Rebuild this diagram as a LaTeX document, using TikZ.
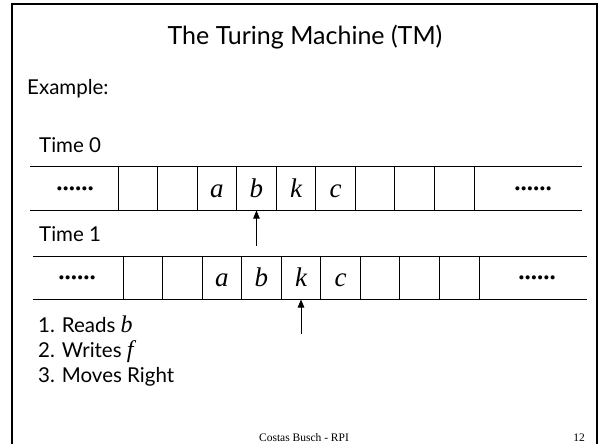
\documentclass[tikz,border=0pt]{standalone}
\usepackage{fontspec}
\setmainfont{Lato}
\newfontfamily\cintafont{Liberation Serif}
\usetikzlibrary{arrows.meta}

\begin{document}
\begin{tikzpicture}[x=1pt, y=-1pt,
			 celda/.style={draw, line width=1pt, minimum width=39.56pt, minimum height=44pt, inner sep=0pt, text height=18pt, text depth=0pt, font=\cintafont\itshape\fontsize{27}{27}\selectfont},
			 puntos/.style={anchor=base, inner sep=0pt, font=\cintafont\bfseries\fontsize{25}{25}\selectfont},
			 texto/.style={anchor=base west, inner sep=0pt, font=\fontsize{20.5}{21}\selectfont},
			 cabezal/.style={-{Triangle[length=8pt, width=6.5pt]}, line width=0.9pt}
  		]
	\useasboundingbox (0,0) rectangle (600,444);

	%Marco de la diapositiva
		\draw[line width=2.4pt] (12,444) -- (12,4) -- (597,4) -- (597,444);

	%Titulo y textos
		\node[anchor=base, inner sep=0pt, font=\fontsize{25}{26}\selectfont] (titulo) at (305,45) {The Turing Machine (TM)};
		\node[texto] (ejemplo) at (27,95) {Example:};
		\node[texto] (tiempo0) at (39,152) {Time 0};
		\node[texto] (tiempo1) at (39,241) {Time 1};

	%Cinta en el tiempo 0
		\draw[line width=1pt] (30,166) -- (582,166) (30,210) -- (582,210);
		\foreach \s [count=\i] in {{},{},a,b,k,c,{},{},{}}
			\node[celda] (c0\i) at ({118+39.56*(\i-0.5)},188) {\s};
		\node[puntos] (c0izq) at (75,190) {......};
		\node[puntos] (c0der) at (533,190) {......};

	%Cinta en el tiempo 1
		\draw[line width=1pt] (33,256) -- (587,256) (33,299) -- (587,299);
		\foreach \s [count=\i] in {{},{},a,b,k,c,{},{},{}}
			\node[celda, minimum height=43pt] (c1\i) at ({123+39.56*(\i-0.5)},277.5) {\s};
		\node[puntos] (c1izq) at (77,279) {......};
		\node[puntos] (c1der) at (537,279) {......};

	%Cabezales
		\coordinate (pie0) at ([yshift=-35pt]c04.south);
		\coordinate (pie1) at ([yshift=-34pt]c15.south);
		\draw[cabezal] (pie0) -- (c04.south);
		\draw[cabezal] (pie1) -- (c15.south);

	%Pasos
		\node[texto] (paso1) at (38,332) {1. Reads {\cintafont\itshape\fontsize{24}{24}\selectfont b}};
		\node[texto] (paso2) at (38,357) {2. Writes {\cintafont\itshape\fontsize{24}{24}\selectfont f}};
		\node[texto] (paso3) at (38,382) {3. Moves Right};

	%Pie de pagina
		\node[anchor=base, inner sep=0pt, font=\cintafont\fontsize{11.5}{12}\selectfont] (autor) at (304,441) {Costas Busch - RPI};
		\node[anchor=base east, inner sep=0pt, font=\cintafont\fontsize{11.5}{12}\selectfont] (pagina) at (585,441) {12};

\end{tikzpicture}
\end{document}
